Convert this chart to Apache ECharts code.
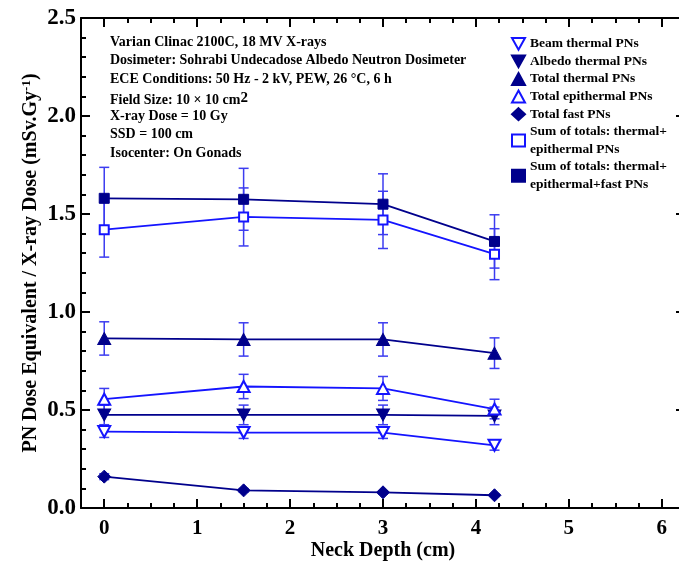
<!DOCTYPE html>
<html><head><meta charset="utf-8">
<script src="https://cdn.jsdelivr.net/npm/echarts@6/dist/echarts.min.js"></script>
<style>html,body{margin:0;padding:0;background:#fff}#c{width:679px;height:564px}</style>
</head><body><div id="c"></div>
<script>
const depth = [0, 1.5, 3, 4.2];
const beamThermal = [0.39, 0.385, 0.385, 0.32];
const beamThermalErr = [0.03, 0.03, 0.03, 0.025];
const albedoThermal = [0.475, 0.475, 0.475, 0.47];
const albedoThermalErr = [0.05, 0.05, 0.05, 0.045];
const totalThermal = [0.865, 0.86, 0.86, 0.79];
const totalThermalErr = [0.085, 0.085, 0.085, 0.078];
const totalEpithermal = [0.555, 0.62, 0.61, 0.505];
const totalEpithermalErr = [0.055, 0.062, 0.061, 0.05];
const totalFast = [0.16, 0.09, 0.08, 0.065];
const totalFastErr = [0.015, 0.009, 0.008, 0.006];
const sumThermEpi = [1.42, 1.485, 1.47, 1.295];
const sumThermEpiErr = [0.14, 0.148, 0.146, 0.13];
const sumAll = [1.58, 1.575, 1.55, 1.36];
const sumAllErr = [0.158, 0.158, 0.155, 0.136];
const xTicks = [0, 1, 2, 3, 4, 5, 6];
const xMinorTicks = [-0.25,0.25,0.5,0.75,1.25,1.5,1.75,2.25,2.5,2.75,3.25,3.5,3.75,4.25,4.5,4.75,5.25,5.5,5.75,6.25];
const notes = [
  'Varian Clinac 2100C, 18 MV X-rays',
  'Dosimeter: Sohrabi Undecadose Albedo Neutron Dosimeter',
  'ECE Conditions: 50 Hz - 2 kV, PEW, 26 \u00B0C, 6 h',
  '{a|Field Size: 10 \u00D7 10 cm}{b|2}',
  'X-ray Dose = 10 Gy',
  'SSD = 100 cm',
  'Isocenter: On Gonads'
];

const NAVY = '#00008c';
const BLUE = '#1414ff';
const ERR = '#3c3cf0';
const FONT = '"Liberation Serif", "Times New Roman", serif';
const DOWN = 'path://M0,0 L10,0 L5,9 Z';

function pairs(ys){ return depth.map((x,i)=>[x, ys[i]]); }
function errData(ys, es){ return depth.map((x,i)=>[x, ys[i]-es[i], ys[i]+es[i]]); }

function errSeries(ys, es){
  return {
    type: 'custom', xAxisIndex: 0, yAxisIndex: 0, silent: true, z: 1,
    data: errData(ys, es),
    renderItem: function(params, api){
      const x = api.value(0);
      const lo = api.coord([x, api.value(1)]);
      const hi = api.coord([x, api.value(2)]);
      const w = 5;
      const st = {stroke: ERR, lineWidth: 1.5, fill: null};
      return {type: 'group', children: [
        {type:'line', shape:{x1:lo[0], y1:lo[1], x2:hi[0], y2:hi[1]}, style: st},
        {type:'line', shape:{x1:lo[0]-w, y1:lo[1], x2:lo[0]+w, y2:lo[1]}, style: st},
        {type:'line', shape:{x1:hi[0]-w, y1:hi[1], x2:hi[0]+w, y2:hi[1]}, style: st}
      ]};
    }
  };
}

function lineSeries(name, ys, symbol, size, filled, color){
  return {
    name, type: 'line', xAxisIndex: 0, yAxisIndex: 0, z: 3,
    data: pairs(ys), symbol, symbolSize: size, showAllSymbol: true,
    lineStyle: {color: color, width: 1.8},
    itemStyle: filled ? {color: color, borderColor: color, borderWidth: 1}
                      : {color: '#ffffff', borderColor: color, borderWidth: 2},
    emphasis: {disabled: true}, animation: false
  };
}

const chart = echarts.init(document.getElementById('c'), null, {renderer: 'canvas'});
const axisLine = {show: true, onZero: false, lineStyle: {color: '#000', width: 2}};
const labelStyle = {fontFamily: FONT, fontWeight: 'bold', color: '#000'};

const series = [
  errSeries(beamThermal, beamThermalErr),
  errSeries(albedoThermal, albedoThermalErr),
  errSeries(totalThermal, totalThermalErr),
  errSeries(totalEpithermal, totalEpithermalErr),
  errSeries(totalFast, totalFastErr),
  errSeries(sumThermEpi, sumThermEpiErr),
  errSeries(sumAll, sumAllErr),
  lineSeries('Beam thermal PNs', beamThermal, DOWN, [12, 11], false, BLUE),
  lineSeries('Albedo thermal PNs', albedoThermal, DOWN, [13, 12], true, NAVY),
  lineSeries('Total thermal PNs', totalThermal, 'triangle', [13, 12], true, NAVY),
  lineSeries('Total epithermal PNs', totalEpithermal, 'triangle', [12, 11], false, BLUE),
  lineSeries('Total fast PNs', totalFast, 'diamond', 13, true, NAVY),
  lineSeries('Sum of totals: thermal+\nepithermal PNs', sumThermEpi, 'rect', 9, false, BLUE),
  lineSeries('Sum of totals: thermal+\nepithermal+fast PNs', sumAll, 'rect', 10, true, NAVY)
];

const option = {
  animation: false,
  grid: {left: 81, right: -6, top: 18, bottom: 56, containLabel: false, outerBoundsMode: 'none'},
  xAxis: [
    {type: 'value', min: -0.25, max: 6.25, position: 'bottom',
     axisLine, splitLine: {show: false},
     axisTick: {show: true, inside: true, length: 9, customValues: xTicks, lineStyle: {color: '#000', width: 2}},
     axisLabel: Object.assign({customValues: xTicks, margin: 10, fontSize: 21, formatter: v => String(v)}, labelStyle),
     name: 'Neck Depth (cm)', nameLocation: 'middle', nameGap: 33, nameMoveOverlap: false,
     nameTextStyle: {fontFamily: FONT, fontWeight: 'bold', fontSize: 20, color: '#000'}},
    {type: 'value', min: -0.25, max: 6.25, position: 'bottom',
     axisLine: {show: false, onZero: false}, splitLine: {show: false},
     axisTick: {show: true, inside: true, length: 5, customValues: xMinorTicks, lineStyle: {color: '#000', width: 2}},
     axisLabel: {show: false}},
    {type: 'value', min: -0.25, max: 6.25, position: 'top',
     axisLine, splitLine: {show: false},
     axisTick: {show: true, inside: true, length: 9, customValues: xTicks, lineStyle: {color: '#000', width: 2}},
     axisLabel: {show: false}},
    {type: 'value', min: -0.25, max: 6.25, position: 'top',
     axisLine: {show: false, onZero: false}, splitLine: {show: false},
     axisTick: {show: true, inside: true, length: 5, customValues: xMinorTicks, lineStyle: {color: '#000', width: 2}},
     axisLabel: {show: false}}
  ],
  yAxis: [
    {type: 'value', min: 0, max: 2.5, interval: 0.5, position: 'left',
     axisLine, splitLine: {show: false},
     axisTick: {show: true, inside: true, length: 9, lineStyle: {color: '#000', width: 2}},
     minorTick: {show: true, splitNumber: 5, length: 5, lineStyle: {color: '#000', width: 2}},
     axisLabel: Object.assign({margin: 5, fontSize: 23, formatter: v => v.toFixed(1)}, labelStyle),
     name: '{t|PN Dose Equivalent / X-ray Dose (mSv.Gy}{s|-1}{t|)}',
     nameLocation: 'middle', nameGap: 39, nameRotate: 90, nameMoveOverlap: false,
     nameTextStyle: {rich: {
       t: {fontFamily: FONT, fontWeight: 'bold', fontSize: 20, color: '#000'},
       s: {fontFamily: FONT, fontWeight: 'bold', fontSize: 13, color: '#000', verticalAlign: 'top', padding: [0,0,9,0]}
     }}},
    {type: 'value', min: 0, max: 2.5, interval: 0.5, position: 'right',
     axisLine, splitLine: {show: false},
     axisTick: {show: true, inside: true, length: 9, lineStyle: {color: '#000', width: 2}},
     axisLabel: {show: false}}
  ],
  legend: {
    orient: 'vertical', left: 506, top: 30, itemGap: 0, itemWidth: 13, itemHeight: 12,
    selectedMode: false,
    data: [
      {name: 'Beam thermal PNs', icon: DOWN},
      {name: 'Albedo thermal PNs', icon: DOWN},
      {name: 'Total thermal PNs', icon: 'triangle'},
      {name: 'Total epithermal PNs', icon: 'triangle'},
      {name: 'Total fast PNs', icon: 'diamond'},
      {name: 'Sum of totals: thermal+\nepithermal PNs', icon: 'rect'},
      {name: 'Sum of totals: thermal+\nepithermal+fast PNs', icon: 'rect'}
    ],
    textStyle: {fontFamily: FONT, fontWeight: 'bold', fontSize: 13.5, color: '#000', lineHeight: 17.6}
  },
  graphic: notes.map((t, i) => ({
    type: 'text', left: 110, top: 35 + i * 18.5,
    style: {text: t, fontFamily: FONT, fontWeight: 'bold', fontSize: 14, fill: '#000',
      rich: {a: {fontFamily: FONT, fontWeight: 'bold', fontSize: 14, color: '#000'},
             b: {fontFamily: FONT, fontWeight: 'bold', fontSize: 15, color: '#000', padding: [0,0,4,0]}}}
  })),
  series
};
chart.setOption(option);
</script></body></html>
